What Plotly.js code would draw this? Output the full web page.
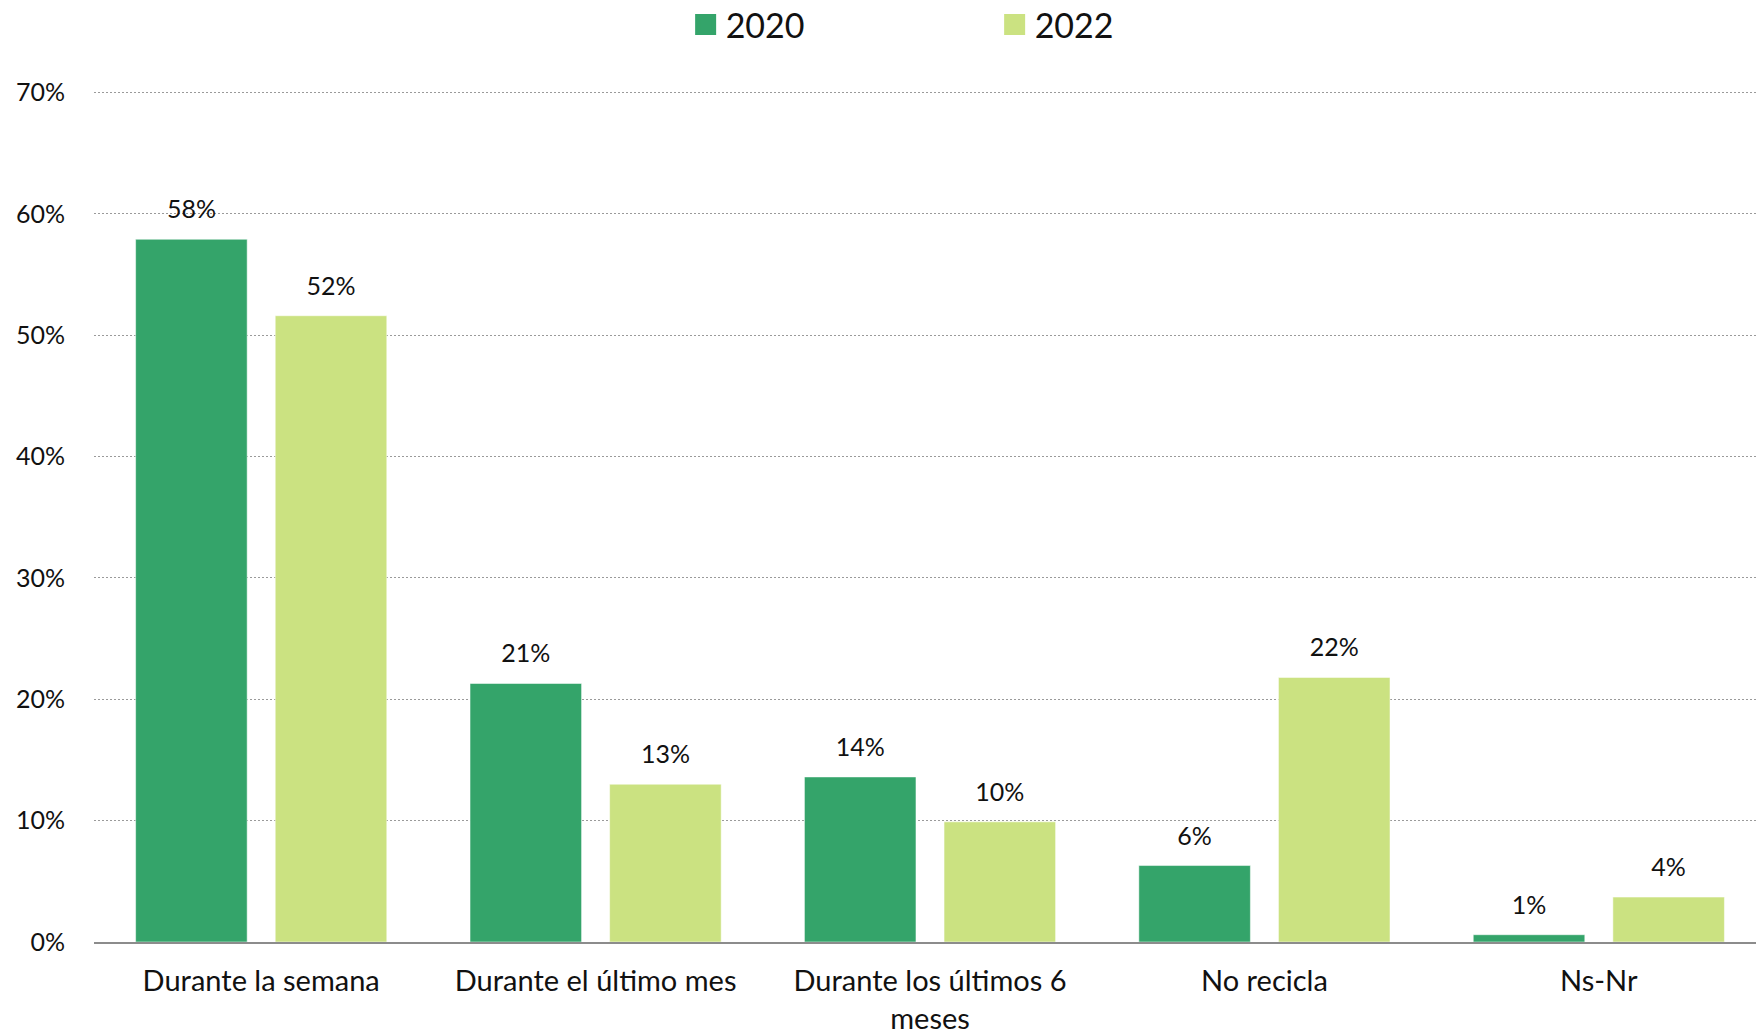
<!DOCTYPE html>
<html>
<head>
<meta charset="utf-8">
<script src="https://cdn.plot.ly/plotly-3.0.1.min.js"></script>
<style>html,body{margin:0;padding:0;background:#fff;}#chart{width:1756px;height:1035px;}</style>
</head>
<body>
<div id="chart"></div>
<script>
const categories = ["Durante la semana", "Durante el último mes", "Durante los últimos 6<br>meses", "No recicla", "Ns-Nr"];
const values2020 = [57.9, 21.3, 13.6, 6.3, 0.6];
const values2022 = [51.6, 13.0, 9.9, 21.8, 3.7];
const seriesNames = ["2020", "2022"];
const colors = ["#34a46a", "#cbe281"];
const yTicks = [0, 10, 20, 30, 40, 50, 60, 70];

const font = "Lato, 'Open Sans', sans-serif";

function barTrace(name, vals, color) {
  return {
    type: "bar", name: name, x: categories, y: vals, offsetgroup: name,
    marker: {color: color, line: {color: "rgba(255,255,255,0.5)", width: 1}},
    showlegend: false, hoverinfo: "x+y"
  };
}
function labelTrace(name, vals) {
  return {
    type: "scatter", mode: "markers+text", name: name, x: categories, y: vals, offsetgroup: name,
    marker: {size: 22, opacity: 0},
    text: vals.map(v => Math.round(v) + "%"),
    textposition: "top center", cliponaxis: false,
    textfont: {family: font, size: 25, color: "#111"},
    showlegend: false, hoverinfo: "skip"
  };
}
function legendTrace(name, color) {
  return {
    type: "scatter", mode: "markers", name: name, x: [null], y: [null],
    marker: {symbol: "square", size: 16, color: color, line: {color: color, width: 5}},
    showlegend: true, hoverinfo: "skip"
  };
}

const data = [
  barTrace(seriesNames[0], values2020, colors[0]),
  barTrace(seriesNames[1], values2022, colors[1]),
  labelTrace(seriesNames[0], values2020),
  labelTrace(seriesNames[1], values2022),
  legendTrace(seriesNames[0], colors[0]),
  legendTrace(seriesNames[1], colors[1])
];

const layout = {
  width: 1756, height: 1035,
  margin: {l: 94, r: 0, t: 90, b: 93, autoexpand: false},
  paper_bgcolor: "#fff", plot_bgcolor: "#fff",
  font: {family: font, size: 25, color: "#111"},
  barmode: "group", bargap: 0.165, bargroupgap: 0.201,
  scattermode: "group", scattergap: 0.165,
  showlegend: true,
  legend: {
    orientation: "h", x: 0.5419, xanchor: "center", y: 1.0763, yanchor: "middle",
    font: {family: font, size: 34, color: "#111"},
    entrywidth: 264, itemsizing: "trace", traceorder: "normal"
  },
  xaxis: {
    type: "category", range: [-0.5, 4.47], showgrid: false, showline: true, linecolor: "#8c8c8c", linewidth: 1.5,
    ticks: "", tickfont: {family: font, size: 29, color: "#111"}, ticklabelstandoff: 13,
    fixedrange: true
  },
  yaxis: {
    range: [0, 70.2], tickvals: yTicks, ticktext: yTicks.map(v => v + "%"),
    showgrid: true, gridcolor: "#9a9a9a", gridwidth: 1, griddash: "2px,2px",
    zeroline: false, showline: false, ticks: "",
    tickfont: {family: font, size: 25, color: "#111"}, ticklabelstandoff: 28,
    fixedrange: true
  }
};

Plotly.newPlot("chart", data, layout, {displayModeBar: false, staticPlot: true});
</script>
</body>
</html>
